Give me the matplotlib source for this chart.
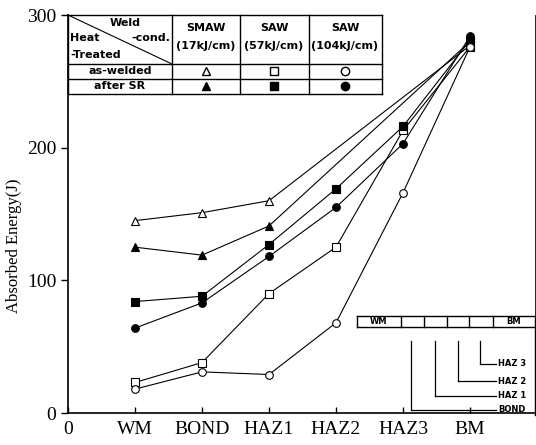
import matplotlib.pyplot as plt
from matplotlib.lines import Line2D
from matplotlib.patches import Rectangle

# Data (absorbed energy, J)
sites = ["WM", "BOND", "HAZ1", "HAZ2", "HAZ3", "BM"]
x_labels = ["0"] + sites
y_ticks = [0, 100, 200, 300]

smaw_aw = [145, 151, 160, None, None, 277]
smaw_sr = [125, 119, 141, None, None, 280]
saw57_aw = [23, 38, 90, 125, 213, 276]
saw57_sr = [84, 88, 127, 169, 216, 281]
saw104_aw = [18, 31, 29, 68, 166, 276]
saw104_sr = [64, 83, 118, 155, 203, 284]

series = [
    (smaw_aw, "^", False),
    (smaw_sr, "^", True),
    (saw57_aw, "s", False),
    (saw57_sr, "s", True),
    (saw104_aw, "o", False),
    (saw104_sr, "o", True),
]

W, H = 536, 445
fig = plt.figure(figsize=(W / 100, H / 100), dpi=100)
ax = fig.add_axes([68 / W, 32 / H, 467 / W, 398 / H])


def fx(x):
    return x / W


def fy(y):
    return 1 - y / H


def line(x0, y0, x1, y1, lw=1.0):
    fig.add_artist(Line2D([fx(x0), fx(x1)], [fy(y0), fy(y1)],
                          transform=fig.transFigure, color="k", lw=lw))


def text(x, y, s, size=8, ha="center", weight="bold"):
    fig.text(fx(x), fy(y), s, ha=ha, va="center", fontsize=size,
             fontweight=weight, family="DejaVu Sans")


for vals, mk, filled in series:
    xs = [i + 1 for i, v in enumerate(vals) if v is not None]
    ys = [v for v in vals if v is not None]
    ax.plot(xs, ys, color="k", lw=0.8, marker=mk, markersize=5.5,
            markerfacecolor="k" if filled else "white",
            markeredgecolor="k", markeredgewidth=0.8)

ax.set_xlim(0, 467 / 67)
ax.set_ylim(0, 300)
ax.set_xticks(range(len(x_labels)))
ax.set_xticklabels(x_labels, family="Liberation Serif", fontsize=14)
ax.set_yticks(y_ticks)
ax.set_yticklabels([str(v) for v in y_ticks], family="Liberation Serif", fontsize=14)
ax.tick_params(axis="y", direction="out", length=5, width=1)
ax.tick_params(axis="x", direction="in", length=4, width=1, pad=6)
ax.set_ylabel("Absorbed Energy(J)", family="Liberation Serif", fontsize=12)
ax.yaxis.set_label_coords(-0.098, 0.42)
ax.spines["top"].set_visible(False)
for s in ["left", "bottom"]:
    ax.spines[s].set_linewidth(1.2)
ax.spines["right"].set_linewidth(0.6)

# Legend table (top left)
fig.add_artist(Rectangle((fx(68), fy(94)), fx(382) - fx(68), fy(15) - fy(94),
                         transform=fig.transFigure, facecolor="white", edgecolor="none", zorder=1))
for y in [15, 64, 79, 94]:
    line(68, y, 382, y)
for x in [68, 172, 240, 309, 382]:
    line(x, 15, x, 94)
line(68, 15, 172, 64, lw=0.8)
text(125, 23, "Weld")
text(70, 38, "Heat", ha="left")
text(170, 38, "-cond.", ha="right")
text(70, 55, "-Treated", ha="left")
cols = [(206, "SMAW", "(17kJ/cm)"), (274, "SAW", "(57kJ/cm)"), (345, "SAW", "(104kJ/cm)")]
for cx, a, b in cols:
    text(cx, 28, a)
    text(cx, 46, b)
text(120, 71, "as-welded")
text(120, 86, "after SR")
for (cx, _, _), mk in zip(cols, ["^", "s", "o"]):
    fig.add_artist(Line2D([fx(cx)], [fy(71)], transform=fig.transFigure, marker=mk,
                          markersize=6, markerfacecolor="white", markeredgecolor="k", ls="none"))
    fig.add_artist(Line2D([fx(cx)], [fy(86)], transform=fig.transFigure, marker=mk,
                          markersize=6, markerfacecolor="k", markeredgecolor="k", ls="none"))

# Weld zone schematic (bottom right)
line(357, 316, 535, 316)
line(357, 327, 535, 327)
for x in [357, 401, 424, 447, 469, 493]:
    line(x, 316, x, 327)
line(535, 316, 535, 415)
text(379, 321.5, "WM", size=6)
text(514, 321.5, "BM", size=6)
zones = [(411, 410, "BOND"), (435, 396, "HAZ 1"), (458, 381, "HAZ 2"), (480, 364, "HAZ 3")]
for x, y, lab in zones:
    line(x, 341, x, y, lw=0.9)
    line(x, y, 496, y, lw=0.9)
    text(498, y, lab, size=6, ha="left")

fig.savefig("out.png", dpi=100)
